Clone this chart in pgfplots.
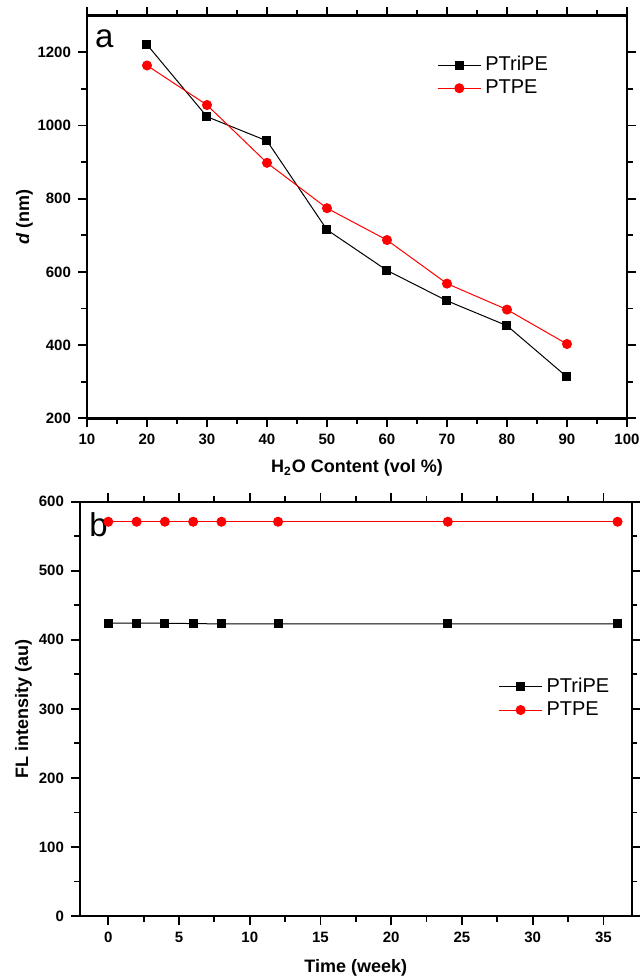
\documentclass[border=0pt]{standalone}
\usepackage{fontspec}
\setmainfont{Liberation Sans}
\usepackage{pgfplots}
\pgfplotsset{compat=1.18}

\pgfplotsset{
  panel/.style={
    scale only axis,
    axis line style={line width=1.2pt},
    tick style={line width=0.9pt,black},
    tick align=outside,
    major tick length=4.5pt,
    minor tick length=2.8pt,
    ticklabel style={font=\bfseries\fontsize{7.5}{8}\selectfont},
    /pgf/number format/assume math mode=true,
    /pgf/number format/1000 sep={},
    label style={font=\bfseries\fontsize{9}{10}\selectfont},
    legend style={draw=none,fill=none,inner sep=0pt,
      font=\fontsize{10}{12}\selectfont,row sep=-1pt},
    legend cell align=left,
    legend image code/.code={\draw[mark repeat=2,mark phase=2]
      plot coordinates {(0pt,0pt) (10.75pt,0pt) (21.5pt,0pt)};},
  },
  tri/.style={black,line width=0.5pt,mark=square*,mark size=2pt,mark options={solid}},
  tpe/.style={red,line width=0.5pt,mark=*,mark size=2.25pt,mark options={solid}},
}

\begin{document}
\begin{tikzpicture}
\useasboundingbox (0,0) rectangle (319.5pt,-489pt);

% panel a
\begin{axis}[
  panel,
  at={(43.5pt,-209.15pt)}, anchor=south west,
  width=270pt, height=201.3pt,
  xmin=10, xmax=100, ymin=200, ymax=1300,
  xtick={10,20,...,100}, ytick={200,400,...,1200},
  minor x tick num=1, minor y tick num=1,
  xlabel={H\textsubscript{2}O Content (vol \%)},
  ylabel={\textit{d} (nm)},
  xlabel style={at={(axis description cs:0.5,-0.124)},anchor=center},
  ylabel style={at={(axis description cs:-0.1157,0.5)},anchor=center},
  legend style={at={(0.648,0.849)},anchor=west},
]
\addplot[tri] coordinates {
  (20,1221) (30,1024) (40,958) (50,715) (60,604) (70,521) (80,453) (90,313)
};
\addplot[tpe] coordinates {
  (20,1164) (30,1056) (40,898) (50,774) (60,687) (70,568) (80,497) (90,403)
};
\legend{PTriPE,PTPE}
\node[anchor=center,font=\fontsize{16.5}{18}\selectfont] at (axis cs:12.9,1237) {a};
\end{axis}

% panel b
\begin{axis}[
  panel,
  at={(40pt,-458pt)}, anchor=south west,
  width=275.85pt, height=207.15pt,
  xmin=-2, xmax=37, ymin=0, ymax=600,
  xtick={0,5,...,35}, ytick={0,100,...,600},
  minor x tick num=1, minor y tick num=1,
  xlabel={Time (week)},
  ylabel={FL intensity (au)},
  xlabel style={at={(axis description cs:0.5,-0.1255)},anchor=center},
  ylabel style={at={(axis description cs:-0.1024,0.5)},anchor=center},
  legend style={at={(0.758,0.5255)},anchor=west},
]
\addplot[tri] coordinates {
  (0,424) (2,424) (4,424) (6,423.5) (8,423) (12,423) (24,423) (36,423)
};
\addplot[tpe] coordinates {
  (0,571) (2,571) (4,571) (6,571) (8,571) (12,571) (24,571) (36,571)
};
\legend{PTriPE,PTPE}
\node[anchor=west,font=\fontsize{16.5}{18}\selectfont] at (rel axis cs:0.004,0.945) {b};
\end{axis}
\end{tikzpicture}
\end{document}
